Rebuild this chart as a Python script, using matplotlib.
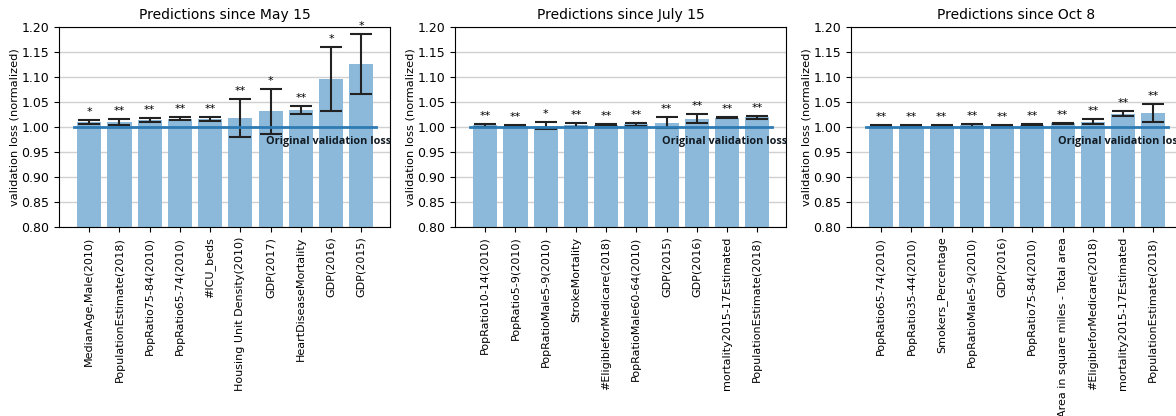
import numpy as np
import matplotlib.pyplot as plt

# Painel 1 - desde 15 de maio
nomes_maio = ['MedianAge,Male(2010)', 'PopulationEstimate(2018)', 'PopRatio75-84(2010)',
              'PopRatio65-74(2010)', '#ICU_beds', 'Housing Unit Density(2010)', 'GDP(2017)',
              'HeartDiseaseMortality', 'GDP(2016)', 'GDP(2015)']
valores_maio = [1.010, 1.011, 1.014, 1.017, 1.016, 1.018, 1.032, 1.034, 1.097, 1.126]
erros_maio = [0.0035, 0.006, 0.0035, 0.003, 0.004, 0.038, 0.045, 0.0085, 0.064, 0.060]
estrelas_maio = ['*', '**', '**', '**', '**', '**', '*', '**', '*', '*']

# Painel 2 - desde 15 de julho
nomes_julho = ['PopRatio10-14(2010)', 'PopRatio5-9(2010)', 'PopRatioMale5-9(2010)',
               'StrokeMortality', '#EligibleforMedicare(2018)', 'PopRatioMale60-64(2010)',
               'GDP(2015)', 'GDP(2016)', 'mortality2015-17Estimated', 'PopulationEstimate(2018)']
valores_julho = [1.004, 1.003, 1.003, 1.005, 1.005, 1.006, 1.009, 1.017, 1.019, 1.020]
erros_julho = [0.003, 0.001, 0.0065, 0.004, 0.001, 0.003, 0.011, 0.0085, 0.001, 0.003]
estrelas_julho = ['**', '**', '*', '**', '**', '**', '**', '**', '**', '**']

# Painel 3 - desde 8 de outubro
nomes_out = ['PopRatio65-74(2010)', 'PopRatio35-44(2010)', 'Smokers_Percentage',
             'PopRatioMale5-9(2010)', 'GDP(2016)', 'PopRatio75-84(2010)',
             'Area in square miles - Total area', '#EligibleforMedicare(2018)',
             'mortality2015-17Estimated', 'PopulationEstimate(2018)']
valores_out = [1.003, 1.003, 1.003, 1.004, 1.003, 1.005, 1.008, 1.011, 1.027, 1.028]
erros_out = [0.0008, 0.0008, 0.0008, 0.003, 0.0008, 0.001, 0.001, 0.0055, 0.005, 0.0175]
estrelas_out = ['**'] * 10

titulos = ['Predictions since May 15', 'Predictions since July 15', 'Predictions since Oct 8']
paineis = [(nomes_maio, valores_maio, erros_maio, estrelas_maio),
           (nomes_julho, valores_julho, erros_julho, estrelas_julho),
           (nomes_out, valores_out, erros_out, estrelas_out)]

fig = plt.figure(figsize=(11.76, 4.16), dpi=100)
W, H = 1176.0, 416.0
posicoes = [59, 455, 851]  # borda esquerda em pixels

for k in range(3):
    nomes, valores, erros, estrelas = paineis[k]
    ax = fig.add_axes([posicoes[k] / W, (H - 227) / H, 331 / W, 200 / H])
    x = np.arange(len(nomes))
    ax.set_axisbelow(True)
    ax.grid(axis='y', color='#d0d0d0', linewidth=1)
    ax.bar(x, valores, width=0.8, color='#8cb9da')
    ax.errorbar(x, valores, yerr=erros, fmt='none', ecolor='#222222', elinewidth=1.5,
                capsize=8, capthick=1.5)
    ax.plot([-0.5, 9.5], [1.0, 1.0], color='#2e7bb4', linewidth=2)
    for i in range(len(x)):
        ax.annotate(estrelas[i], (x[i], valores[i] + erros[i]), xytext=(0, 2),
                    textcoords='offset points', ha='center', va='bottom', fontsize=8)
    ax.text(5.85, 0.972, 'Original validation loss', fontsize=7.8, fontweight='bold',
            family='Open Sans', color='#111a22', va='center', ha='left')
    ax.set_ylim(0.80, 1.20)
    ax.set_xlim(-1, 9.95)
    ax.set_yticks(np.arange(0.80, 1.201, 0.05))
    ax.set_xticks(x)
    ax.set_xticklabels(nomes, rotation=90, fontsize=8.0)
    ax.tick_params(axis='y', labelsize=9)
    ax.set_ylabel('validation loss (normalized)', fontsize=8.2, labelpad=1)
    ax.set_title(titulos[k], fontsize=10)

plt.savefig('out.png', dpi=100)
